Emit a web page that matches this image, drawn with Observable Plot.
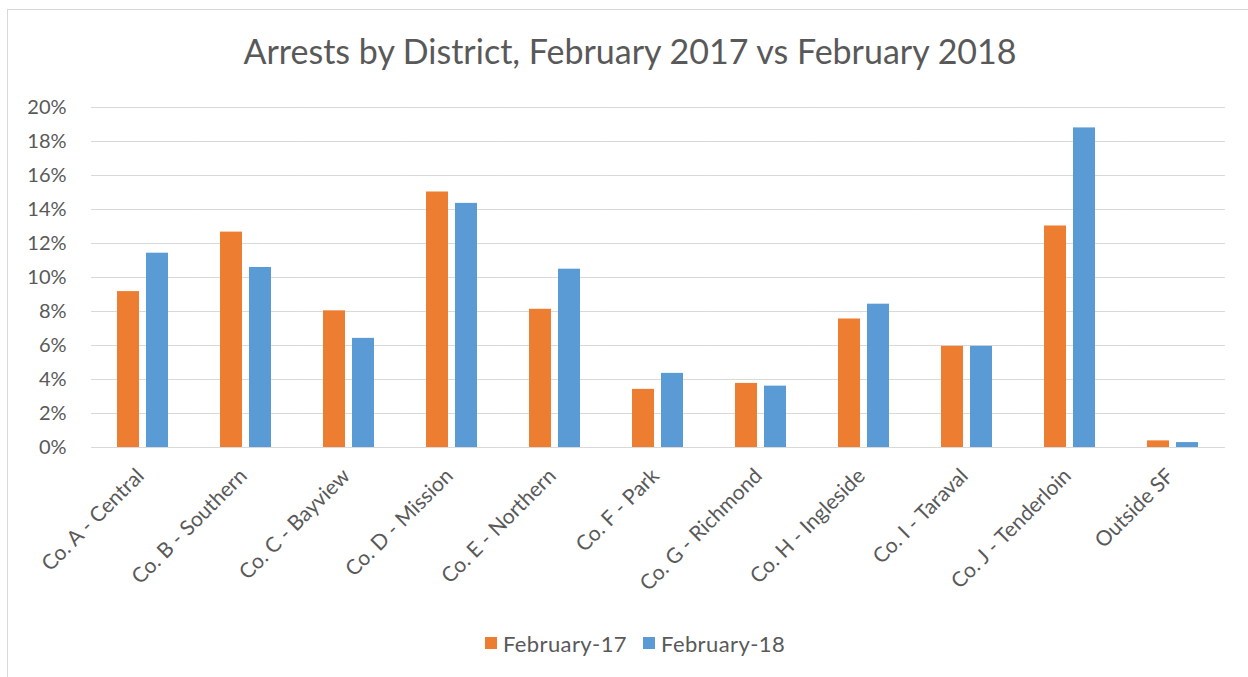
<!DOCTYPE html>
<html>
<head>
<meta charset="utf-8">
<script src="https://cdn.jsdelivr.net/npm/d3@7"></script>
<script src="https://cdn.jsdelivr.net/npm/@observablehq/plot@0.6"></script>
<style>
  body { margin: 0; background: #fff; }
  #wrap { position: relative; width: 1248px; height: 677px; background: #fff; font-family: Lato, "Noto Sans", sans-serif; color: #595959; }
  #frame { position: absolute; left: 7px; top: 9px; right: 0; bottom: 0; border-left: 1px solid #d9d9d9; border-top: 1px solid #d9d9d9; }
  #title { position: absolute; left: 0; width: 1260px; top: 36px; text-align: center; font-size: 34px; line-height: 30px; white-space: nowrap; }
  #chart { position: absolute; left: 0; top: 90px; }
  #legend { position: absolute; left: 0; width: 1270px; top: 626px; height: 34px; display: flex; justify-content: center; align-items: center; font-size: 22px; letter-spacing: 0.4px; }
  .item { display: flex; align-items: center; margin: 0 8px; }
  .sw { width: 12px; height: 12px; margin-right: 6px; }
</style>
</head>
<body>
<div id="wrap">
  <div id="frame"></div>
  <div id="title">Arrests by District, February 2017 vs February 2018</div>
  <div id="chart"></div>
  <div id="legend"></div>
</div>
<script>
const districts = ["Co. A - Central", "Co. B - Southern", "Co. C - Bayview", "Co. D - Mission", "Co. E - Northern", "Co. F - Park", "Co. G - Richmond", "Co. H - Ingleside", "Co. I - Taraval", "Co. J - Tenderloin", "Outside SF"];
const series = ["February-17", "February-18"];
const feb17 = [0.0917, 0.1267, 0.0804, 0.1503, 0.0813, 0.0342, 0.0377, 0.0756, 0.0595, 0.1303, 0.0039];
const feb18 = [0.1143, 0.1059, 0.0642, 0.1436, 0.1049, 0.0436, 0.0361, 0.0843, 0.0595, 0.1880, 0.0029];
const yTicks = [0, 0.02, 0.04, 0.06, 0.08, 0.10, 0.12, 0.14, 0.16, 0.18, 0.20];
const colors = ["#ED7D31", "#5B9BD5"];

const data = [];
districts.forEach((d, i) => {
  data.push({district: d, series: series[0], value: feb17[i]});
  data.push({district: d, series: series[1], value: feb18[i]});
});

const W = 1248, ML = 88, MR = 20;
// half of the gap between facet bands (paddingInner 0.5 => gap = half a step)
const halfGap = (W - ML - MR) / districts.length / 4;

const chart = Plot.plot({
  width: W,
  height: 530,
  marginTop: 17,
  marginBottom: 173,
  marginLeft: ML,
  marginRight: MR,
  style: {fontFamily: "Lato, 'Noto Sans', sans-serif", color: "#595959", background: "transparent"},
  fx: {domain: districts, paddingInner: 0.5, paddingOuter: 0.25, label: null},
  x: {domain: series, paddingInner: 0.24, paddingOuter: 0, axis: null},
  y: {domain: [0, 0.2], label: null},
  color: {domain: series, range: colors},
  marks: [
    Plot.ruleY(yTicks, {stroke: "#d9d9d9", strokeWidth: 1, insetLeft: -halfGap, insetRight: -halfGap}),
    Plot.barY(data, {fx: "district", x: "series", y: "value", fill: "series"}),
    Plot.axisY(yTicks, {tickSize: 0, tickPadding: 25 + halfGap, tickFormat: d => Math.round(d * 100) + "%", fontSize: 20, label: null, fill: "#595959"}),
    Plot.axisFx({anchor: "bottom", tickRotate: -45, tickSize: 0, tickPadding: 25, dx: -3, fontSize: 21, label: null, fill: "#595959"})
  ]
});
document.getElementById("chart").appendChild(chart);

const leg = document.getElementById("legend");
series.forEach((s, i) => {
  const item = document.createElement("div");
  item.className = "item";
  const sw = document.createElement("div");
  sw.className = "sw";
  sw.style.background = chart.scale("color").range[i];
  const t = document.createElement("span");
  t.textContent = s;
  item.appendChild(sw);
  item.appendChild(t);
  leg.appendChild(item);
});
</script>
</body>
</html>
